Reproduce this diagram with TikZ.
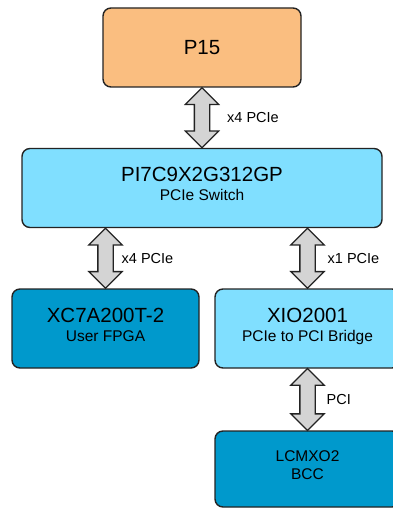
\documentclass[tikz,border=0pt]{standalone}
\usepackage{fontspec}
\setmainfont{Liberation Sans}
\usetikzlibrary{positioning,calc,shapes.arrows}

\definecolor{boxorange}{RGB}{250,190,128}
\definecolor{boxcyan}{RGB}{128,223,255}
\definecolor{boxblue}{RGB}{0,153,204}
\definecolor{arrowgray}{RGB}{212,212,212}
\definecolor{edgedark}{RGB}{35,35,35}

\tikzset{
    chip/.style={draw=edgedark, line width=1.4pt, rounded corners=8pt, align=center, inner sep=0pt},
    twoline/.style={text depth=8pt},
    bus/.style={draw=edgedark, line width=1.3pt, fill=arrowgray, shape=double arrow,
        double arrow head extend=9pt, double arrow tip angle=90, shape border rotate=90,
        inner sep=7pt, minimum height=60pt},
    buslabel/.style={inner sep=0pt, font=\fontsize{14.5}{17}\selectfont}
}
\newcommand{\partno}{\fontsize{20.5}{24}\selectfont}
\newcommand{\partrole}{\fontsize{15.5}{19}\selectfont}

\begin{document}
\begin{tikzpicture}[x=1pt,y=-1pt]

    \useasboundingbox (0,0) rectangle (392,508);

    % Host connector at the top and the switch below it
    \node[chip, fill=boxorange, minimum width=198pt, minimum height=79pt] (p15) at (202,47.5) {\partno P15};
    \node[chip, twoline, fill=boxcyan, minimum width=360pt, minimum height=79pt] (switch) at (202,188)
        {\partno PI7C9X2G312GP\\[7pt]\partrole PCIe Switch};

    % Devices behind the switch
    \node[chip, twoline, fill=boxblue, minimum width=187pt, minimum height=79pt] (fpga) at (105.5,328.5)
        {\partno XC7A200T-2\\[7pt]\partrole User FPGA};
    \node[chip, twoline, fill=boxcyan, minimum width=185pt, minimum height=79pt] (xio) at (307.5,328.5)
        {\partno XIO2001\\[7pt]\partrole PCIe to PCI Bridge};
    \node[chip, twoline, fill=boxblue, minimum width=185pt, minimum height=76pt] (bcc) at (307.5,469)
        {\partrole LCMXO2\\[6.5pt]\partrole BCC};

    % Buses between the boxes
    \node[bus] (busA) at ($(p15.south)!0.5!(switch.north)$) {};
    \node[bus] (busB) at ($(fpga.north)!0.5!(fpga.north |- switch.south)$) {};
    \node[bus] (busC) at ($(xio.north)!0.5!(xio.north |- switch.south)$) {};
    \node[bus, minimum height=62pt] (busD) at ($(xio.south)!0.5!(bcc.north)$) {};

    % Bus labels
    \node[buslabel, right=25pt of busA.center] (lblA) {x4 PCIe};
    \node[buslabel, right=16pt of busB.center] (lblB) {x4 PCIe};
    \node[buslabel, right=20pt of busC.center] (lblC) {x1 PCIe};
    \node[buslabel, right=19pt of busD.center] (lblD) {PCI};

\end{tikzpicture}
\end{document}
